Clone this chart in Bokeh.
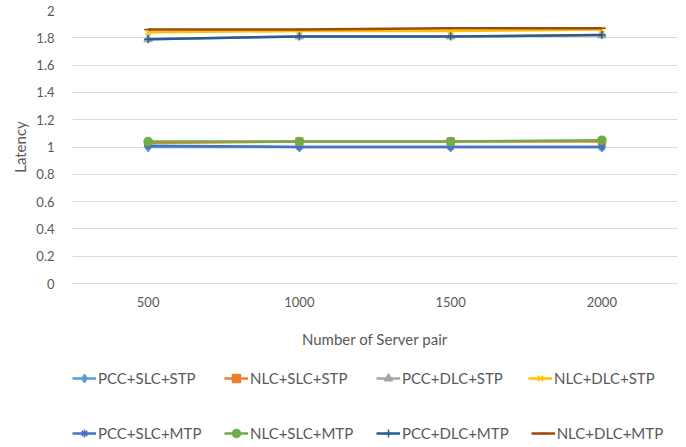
from bokeh.plotting import figure
from bokeh.layouts import column
from bokeh.models import Legend, LegendItem, Range1d, FixedTicker, NumeralTickFormatter
from bokeh.embed import file_html
from bokeh.resources import INLINE

# Number of server pairs (x categories)
server_pairs = ["500", "1000", "1500", "2000"]

# Latency per configuration
pcc_slc_stp = [1.00, 1.00, 1.00, 1.00]
nlc_slc_stp = [1.03, 1.04, 1.04, 1.04]
pcc_dlc_stp = [1.79, 1.81, 1.81, 1.82]
nlc_dlc_stp = [1.84, 1.85, 1.85, 1.86]
pcc_slc_mtp = [1.01, 1.00, 1.00, 1.00]
nlc_slc_mtp = [1.04, 1.04, 1.04, 1.05]
pcc_dlc_mtp = [1.79, 1.81, 1.81, 1.82]
nlc_dlc_mtp = [1.86, 1.86, 1.87, 1.87]

y_ticks = [0, 0.2, 0.4, 0.6, 0.8, 1, 1.2, 1.4, 1.6, 1.8, 2]

series = [
    ("PCC+SLC+STP", pcc_slc_stp, "#5B9BD5", "diamond", 9),
    ("NLC+SLC+STP", nlc_slc_stp, "#ED7D31", "square", 7),
    ("PCC+DLC+STP", pcc_dlc_stp, "#A5A5A5", "triangle", 8),
    ("NLC+DLC+STP", nlc_dlc_stp, "#FFC000", "x", 8),
    ("PCC+SLC+MTP", pcc_slc_mtp, "#4472C4", "asterisk", 8),
    ("NLC+SLC+MTP", nlc_slc_mtp, "#70AD47", "circle", 8),
    ("PCC+DLC+MTP", pcc_dlc_mtp, "#255E91", "cross", 8),
    ("NLC+DLC+MTP", nlc_dlc_mtp, "#9E480E", "dash", 8),
]

FONT = "Lato"
TEXT_COLOR = "#595959"
W = 686
H_CHART = 360
H_LEGEND = 87

p = figure(
    x_range=server_pairs,
    y_range=Range1d(0, 2),
    width=W,
    height=H_CHART,
    output_backend="svg",
    toolbar_location=None,
    min_border_left=72,
    min_border_right=9,
    min_border_top=10,
    min_border_bottom=77,
)
p.outline_line_color = None

# axes
p.xaxis.axis_label = "Number of Server pair"
p.yaxis.axis_label = "Latency"
for ax in (p.xaxis[0], p.yaxis[0]):
    ax.major_tick_line_color = None
    ax.minor_tick_line_color = None
    ax.major_label_text_font = FONT
    ax.major_label_text_font_size = "13px"
    ax.major_label_text_color = TEXT_COLOR
    ax.axis_label_text_font = FONT
    ax.axis_label_text_font_size = "15px"
    ax.axis_label_text_font_style = "normal"
    ax.axis_label_text_color = TEXT_COLOR
p.xaxis.axis_line_color = "#D9D9D9"
p.yaxis.axis_line_color = None
p.xaxis.major_label_standoff = 7
p.xaxis.axis_label_standoff = 20
p.yaxis.major_label_standoff = 12
p.yaxis.axis_label_standoff = 4
p.yaxis.ticker = FixedTicker(ticks=y_ticks)
p.yaxis.formatter = NumeralTickFormatter(format="0.[0]")

p.xgrid.grid_line_color = None
p.ygrid.grid_line_color = "#D9D9D9"
p.ygrid.grid_line_width = 1


def draw_series(fig, name, vals, color, marker, size):
    ln = fig.line(server_pairs, vals, line_color=color, line_width=2.5)
    mk = fig.scatter(server_pairs, vals, marker=marker, size=size,
                     fill_color=color, line_color=color, line_width=1.5)
    return LegendItem(label=name, renderers=[ln, mk])


for s in series:
    draw_series(p, *s)

# legend strip under the chart; its own ranges keep the series out of view
leg_fig = figure(
    x_range=server_pairs,
    y_range=Range1d(10, 11),
    x_axis_type=None,
    y_axis_type=None,
    width=W,
    height=H_LEGEND,
    output_backend="svg",
    toolbar_location=None,
    min_border=0,
)
leg_fig.grid.grid_line_color = None
leg_fig.outline_line_color = None

items = [draw_series(leg_fig, *s) for s in series]


def legend_row(row_items, y):
    return Legend(
        items=row_items,
        orientation="horizontal",
        location=(0, y),
        label_text_font=FONT,
        label_text_font_size="15px",
        label_text_color=TEXT_COLOR,
        label_standoff=2,
        label_width=104,
        glyph_width=24,
        spacing=22,
        border_line_color=None,
        background_fill_alpha=0,
        margin=0,
        padding=0,
    )


# STP configurations on the first row, MTP ones on the second
leg_fig.add_layout(legend_row(items[:4], 59), "center")
leg_fig.add_layout(legend_row(items[4:], 4), "center")

layout = column(p, leg_fig, spacing=0)
open("out.html", "w").write(file_html(layout, INLINE))
